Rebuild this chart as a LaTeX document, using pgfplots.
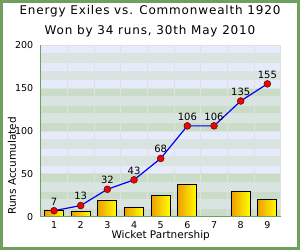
\documentclass[border=0pt]{standalone}
\usepackage{fontspec}
\setmainfont{DejaVu Sans}
\newfontfamily\titlefont[LetterSpace=7]{DejaVu Sans}
\usepackage{pgfplots}
\pgfplotsset{compat=1.18}
\definecolor{framec}{RGB}{112,160,96}
\definecolor{bandB}{RGB}{230,235,252}
\definecolor{bandG}{RGB}{216,228,224}
\definecolor{bandN}{RGB}{200,220,200}
\definecolor{gridc}{RGB}{224,224,224}
\definecolor{barL}{RGB}{238,158,0}
\definecolor{barR}{RGB}{255,255,0}
\definecolor{ballc}{RGB}{225,10,10}
\definecolor{balle}{RGB}{130,0,0}
\pgfplotsset{gbar/.style={ybar, bar width=0.71, draw=black, line width=0.8pt, left color=barL, right color=barR}}
\begin{document}
\begin{tikzpicture}[x=1pt,y=1pt]
\useasboundingbox (0,0) rectangle (300,250);
\fill[white] (0,0) rectangle (300,250);
\draw[framec, line width=3pt] (1.5,1.5) rectangle (298.5,248.5);
\node[font=\titlefont\fontsize{12}{14}\selectfont] at (150,239) {Energy Exiles vs. Commonwealth 1920};
\node[font=\titlefont\fontsize{12}{14}\selectfont] at (150,219) {Won by 34 runs, 30th May 2010};
\begin{axis}[
  at={(40.7pt,33.3pt)}, anchor=south west,
  scale only axis, width=240pt, height=171.4pt,
  xmin=0.5, xmax=9.5, ymin=0, ymax=200,
  xtick={1,...,9}, ytick={0,50,...,200},
  major tick length=0pt,
  axis line style={draw=none},
  /pgf/number format/assume math mode=true,
  tick label style={font=\fontsize{9.5}{11}\selectfont},
  xticklabel style={yshift=-1pt},
  yticklabel style={xshift=-4pt},
  label style={font=\fontsize{10.5}{12}\selectfont},
  xlabel={Wicket Partnership},
  xlabel style={at={(axis description cs:0.5,-0.1126)}, anchor=center},
  ylabel={Runs Accumulated},
  ylabel style={at={(axis description cs:-0.1196,0.296)}, anchor=center},
  clip=false,
]
% background bands
\fill[bandN] (axis cs:0.5,0) rectangle (axis cs:9.5,10);
\fill[bandG] (axis cs:0.5,10) rectangle (axis cs:9.5,20);
\fill[bandN] (axis cs:0.5,20) rectangle (axis cs:9.5,30);
\fill[bandG] (axis cs:0.5,30) rectangle (axis cs:9.5,40);
\fill[bandN] (axis cs:0.5,40) rectangle (axis cs:9.5,50);
\fill[bandB] (axis cs:0.5,50) rectangle (axis cs:9.5,60);
\fill[bandG] (axis cs:0.5,60) rectangle (axis cs:9.5,70);
\fill[bandB] (axis cs:0.5,70) rectangle (axis cs:9.5,80);
\fill[bandG] (axis cs:0.5,80) rectangle (axis cs:9.5,90);
\fill[bandB] (axis cs:0.5,90) rectangle (axis cs:9.5,100);
\fill[bandN] (axis cs:0.5,100) rectangle (axis cs:9.5,110);
\fill[bandG] (axis cs:0.5,110) rectangle (axis cs:9.5,120);
\fill[bandN] (axis cs:0.5,120) rectangle (axis cs:9.5,130);
\fill[bandG] (axis cs:0.5,130) rectangle (axis cs:9.5,140);
\fill[bandN] (axis cs:0.5,140) rectangle (axis cs:9.5,150);
\fill[bandB] (axis cs:0.5,150) rectangle (axis cs:9.5,160);
\fill[bandG] (axis cs:0.5,160) rectangle (axis cs:9.5,170);
\fill[bandB] (axis cs:0.5,170) rectangle (axis cs:9.5,180);
\fill[bandG] (axis cs:0.5,180) rectangle (axis cs:9.5,190);
\fill[bandB] (axis cs:0.5,190) rectangle (axis cs:9.5,200);
% grid
\pgfplotsinvokeforeach{10,20,...,190}{\draw[gridc, line width=0.8pt] (axis cs:0.5,#1) -- (axis cs:9.5,#1);}
\pgfplotsinvokeforeach{1.5,2.5,...,8.5}{\draw[gridc, line width=0.8pt] (axis cs:#1,0) -- (axis cs:#1,200);}
\draw[gridc, line width=0.8pt] (axis cs:0.5,200) -- (axis cs:9.5,200) -- (axis cs:9.5,0);
% bars (runs per partnership; 7th wicket added 0)
\addplot[gbar] coordinates {(1,7)};
\addplot[gbar] coordinates {(2,6)};
\addplot[gbar] coordinates {(3,19)};
\addplot[gbar] coordinates {(4,11)};
\addplot[gbar] coordinates {(5,25)};
\addplot[gbar] coordinates {(6,38)};
\addplot[gbar] coordinates {(8,29)};
\addplot[gbar] coordinates {(9,20)};
% axis lines
\draw[framec, line width=1.2pt] (axis cs:0.5,200) -- (axis cs:0.5,0) -- (axis cs:9.5,0);
% cumulative line
\addplot[blue, line width=1.2pt, mark=*, mark size=3.4pt, mark options={fill=ballc, draw=balle, line width=0.6pt},
  nodes near coords, every node near coord/.style={font=\fontsize{10}{12}\selectfont, black, anchor=south, yshift=2pt}]
  coordinates {(1,7)(2,13)(3,32)(4,43)(5,68)(6,106)(7,106)(8,135)(9,155)};
\end{axis}
\end{tikzpicture}
\end{document}
